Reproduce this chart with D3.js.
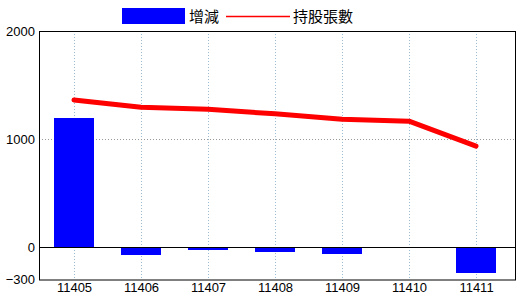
<!DOCTYPE html>
<html lang="zh-Hant">
<head>
<meta charset="UTF-8">
<title>增減 / 持股張數</title>
<script src="https://d3js.org/d3.v7.min.js"></script>
<style>
    body { margin: 0; background: #fff; }
    .tick text { font: 13px "Liberation Sans Narrow", "Liberation Sans", Arial, sans-serif; fill: #000; }
    .legend text { font: 15px "Noto Sans CJK TC", sans-serif; fill: #000; }
</style>
</head>
<body>
<svg width="520" height="300"></svg>
<script>
// data
var months = ["11405", "11406", "11407", "11408", "11409", "11410", "11411"];
var change = [1196, -60, -15, -35, -55, 0, -228];      // 增減 (bars)
var holding = [1362, 1295, 1276, 1233, 1184, 1165, 934]; // 持股張數 (line)
var yTicks = [-300, 0, 1000, 2000];

var svg = d3.select("svg");
var plot = {left: 39, right: 515, top: 31, bottom: 279.5};

var x = d3.scalePoint().domain(months).range([74, 476]);
var y = d3.scaleLinear().domain([-300, 2000]).range([plot.bottom, plot.top]);
var zeroY = Math.round(y(0));

// vertical grid
svg.append("g").selectAll("line")
    .data(months)
    .enter().append("line")
    .attr("x1", d => Math.round(x(d)) + 0.5)
    .attr("x2", d => Math.round(x(d)) + 0.5)
    .attr("y1", plot.top)
    .attr("y2", plot.bottom)
    .attr("stroke", "#9dbbd2")
    .attr("stroke-dasharray", "1,2");

// horizontal grid at 1000
svg.append("line")
    .attr("x1", plot.left).attr("x2", plot.right)
    .attr("y1", Math.round(y(1000)) + 0.5).attr("y2", Math.round(y(1000)) + 0.5)
    .attr("stroke", "#999")
    .attr("stroke-dasharray", "1,2");

// bars
svg.append("g").selectAll("rect")
    .data(change)
    .enter().append("rect")
    .attr("x", (d, i) => Math.round(x(months[i])) - 20)
    .attr("width", 40)
    .attr("y", d => d >= 0 ? Math.round(y(d)) : zeroY)
    .attr("height", d => d >= 0 ? zeroY - Math.round(y(d)) : Math.round(y(d)) - zeroY + 1)
    .attr("fill", "#0000ff");

// zero line
svg.append("line")
    .attr("x1", plot.left).attr("x2", plot.right)
    .attr("y1", zeroY + 0.5).attr("y2", zeroY + 0.5)
    .attr("stroke", "#000");

// holding line
var line = d3.line()
    .x((d, i) => x(months[i]))
    .y(d => y(d));
svg.append("path")
    .datum(holding)
    .attr("d", line)
    .attr("fill", "none")
    .attr("stroke", "#ff0000")
    .attr("stroke-width", 5)
    .attr("stroke-linejoin", "round")
    .attr("stroke-linecap", "round");

// frame
svg.append("rect")
    .attr("x", plot.left + 0.5).attr("y", plot.top + 0.5)
    .attr("width", plot.right - plot.left)
    .attr("height", plot.bottom - plot.top)
    .attr("fill", "none")
    .attr("stroke", "#000");

// axes (labels only)
var yAxis = svg.append("g")
    .attr("transform", "translate(" + plot.left + ",0)")
    .call(d3.axisLeft(y).tickValues(yTicks).tickFormat(d3.format("d")).tickSize(0).tickPadding(4));
yAxis.select(".domain").remove();

var xAxis = svg.append("g")
    .attr("transform", "translate(0," + plot.bottom + ")")
    .call(d3.axisBottom(x).tickSize(0).tickPadding(3));
xAxis.select(".domain").remove();

// legend
var legend = svg.append("g").attr("class", "legend");
legend.append("rect")
    .attr("x", 122).attr("y", 8).attr("width", 63).attr("height", 16)
    .attr("fill", "#0000ff");
legend.append("text").attr("x", 189).attr("y", 22).text("增減");
legend.append("line")
    .attr("x1", 226).attr("x2", 290).attr("y1", 16.5).attr("y2", 16.5)
    .attr("stroke", "#ff0000").attr("stroke-width", 1.5);
legend.append("text").attr("x", 293).attr("y", 22).text("持股張數");
</script>
</body>
</html>
